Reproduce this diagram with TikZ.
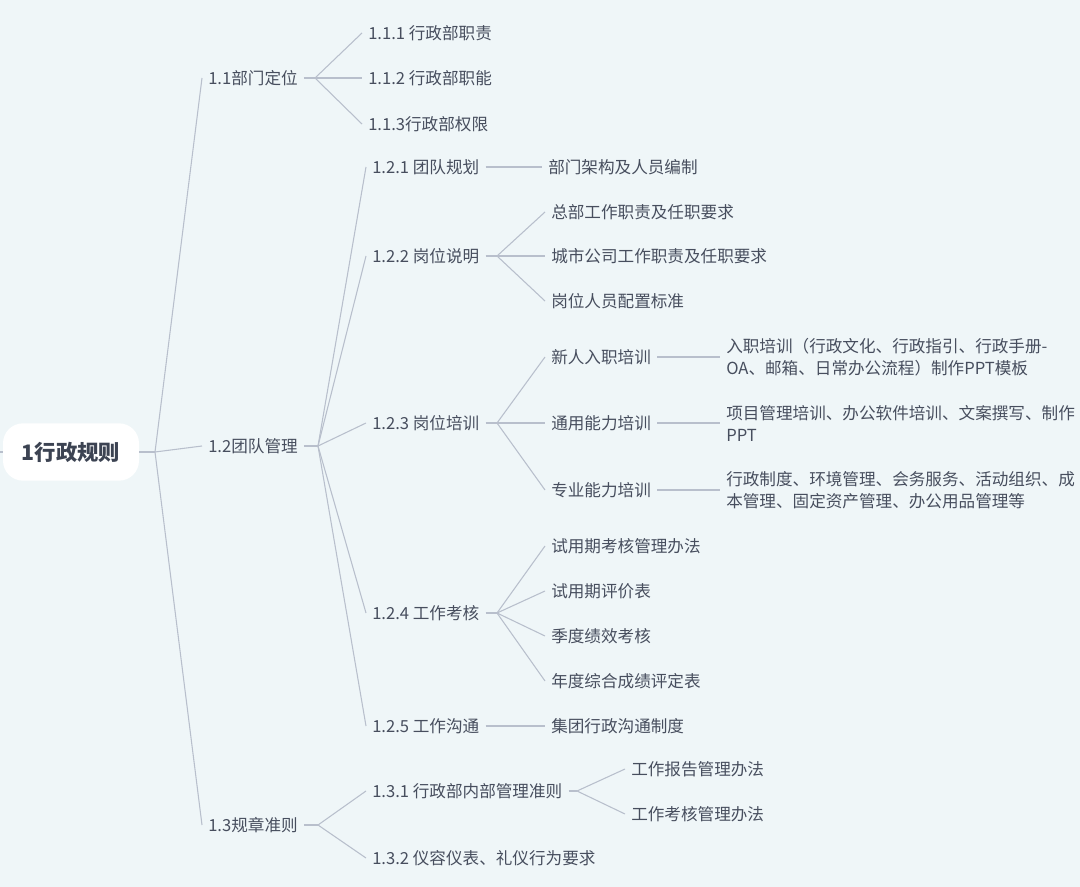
\documentclass[tikz,border=0pt]{standalone}
\usepackage{fontspec}
\setmainfont{Noto Sans CJK SC}
\usetikzlibrary{calc}
\definecolor{bg}{HTML}{EFF6F8}
\definecolor{txt}{HTML}{474E5E}
\definecolor{ln}{HTML}{B8BFCC}
\definecolor{roottxt}{HTML}{3C4352}
\begin{document}
\begin{tikzpicture}[x=0.75pt,y=-0.75pt,
  t/.style={anchor=west,inner xsep=4.5pt,inner ysep=1pt,text=txt,font=\fontsize{12.45pt}{16.5pt}\selectfont},
  ml/.style={t,align=left},
  conn/.style={draw=ln,line width=0.8pt},
  rootbox/.style={fill=white,rounded corners=15pt,minimum width=102pt,minimum height=43pt,inner sep=0pt,text=roottxt,font=\fontsize{16pt}{18pt}\selectfont\bfseries}]
\fill[bg] (0,0) rectangle (1080,887);
\useasboundingbox (0,0) rectangle (1080,887);

% root
\node[rootbox] (root) at (71,452) {1行政规则};
\coordinate (stub) at (0,452);
\coordinate (b0) at (155,452);

% level 1
\node[t] (n11) at (202,78) {1.1部门定位};
\node[t] (n12) at (202,446) {1.2团队管理};
\node[t] (n13) at (202,825) {1.3规章准则};

% 1.1
\node[t] (n111) at (362,33) {1.1.1 行政部职责};
\node[t] (n112) at (362,78) {1.1.2 行政部职能};
\node[t] (n113) at (362,124) {1.1.3行政部权限};
\coordinate (b11) at (315,78);

% 1.2
\coordinate (b12) at (318,446);
\node[t] (n121) at (366,167) {1.2.1 团队规划};
\node[t] (n122) at (366,256) {1.2.2 岗位说明};
\node[t] (n123) at (366,423) {1.2.3 岗位培训};
\node[t] (n124) at (366,613) {1.2.4 工作考核};
\node[t] (n125) at (366,726) {1.2.5 工作沟通};

\node[t] (n1211) at (542,167) {部门架构及人员编制};

\coordinate (b122) at (497,256);
\node[t] (n1221) at (545,212) {总部工作职责及任职要求};
\node[t] (n1222) at (545,256) {城市公司工作职责及任职要求};
\node[t] (n1223) at (545,301) {岗位人员配置标准};

\coordinate (b123) at (497,423);
\node[t] (n1231) at (545,357) {新人入职培训};
\node[t] (n1232) at (545,423) {通用能力培训};
\node[t] (n1233) at (545,490) {专业能力培训};
\node[ml] (n12311) at (720,357) {入职培训（行政文化、行政指引、行政手册-\\OA、邮箱、日常办公流程）制作PPT模板};
\node[ml] (n12321) at (720,423) {项目管理培训、办公软件培训、文案撰写、制作\\PPT};
\node[ml] (n12331) at (720,490) {行政制度、环境管理、会务服务、活动组织、成\\本管理、固定资产管理、办公用品管理等};

\coordinate (b124) at (497,613);
\node[t] (n1241) at (545,546) {试用期考核管理办法};
\node[t] (n1242) at (545,591) {试用期评价表};
\node[t] (n1243) at (545,636) {季度绩效考核};
\node[t] (n1244) at (545,681) {年度综合成绩评定表};

\node[t] (n1251) at (545,726) {集团行政沟通制度};

% 1.3
\coordinate (b13) at (318,825);
\node[t] (n131) at (366,791) {1.3.1 行政部内部管理准则};
\node[t] (n132) at (366,858) {1.3.2 仪容仪表、礼仪行为要求};
\coordinate (b131) at (577,791);
\node[t] (n1311) at (625,769) {工作报告管理办法};
\node[t] (n1312) at (625,814) {工作考核管理办法};

% connectors
\draw[conn] (stub) -- (root.west);
\draw[conn] (root.east) -- (b0);
\foreach \c in {n11,n12,n13} \draw[conn] (b0) -- (\c.west);

\draw[conn] (n11.east) -- (b11);
\foreach \c in {n111,n112,n113} \draw[conn] (b11) -- (\c.west);

\draw[conn] (n12.east) -- (b12);
\foreach \c in {n121,n122,n123,n124,n125} \draw[conn] (b12) -- (\c.west);

\draw[conn] (n121.east) -- (n1211.west);

\draw[conn] (n122.east) -- (b122);
\foreach \c in {n1221,n1222,n1223} \draw[conn] (b122) -- (\c.west);

\draw[conn] (n123.east) -- (b123);
\foreach \c in {n1231,n1232,n1233} \draw[conn] (b123) -- (\c.west);
\draw[conn] (n1231.east) -- (n12311.west);
\draw[conn] (n1232.east) -- (n12321.west);
\draw[conn] (n1233.east) -- (n12331.west);

\draw[conn] (n124.east) -- (b124);
\foreach \c in {n1241,n1242,n1243,n1244} \draw[conn] (b124) -- (\c.west);

\draw[conn] (n125.east) -- (n1251.west);

\draw[conn] (n13.east) -- (b13);
\foreach \c in {n131,n132} \draw[conn] (b13) -- (\c.west);
\draw[conn] (n131.east) -- (b131);
\foreach \c in {n1311,n1312} \draw[conn] (b131) -- (\c.west);
\end{tikzpicture}
\end{document}
